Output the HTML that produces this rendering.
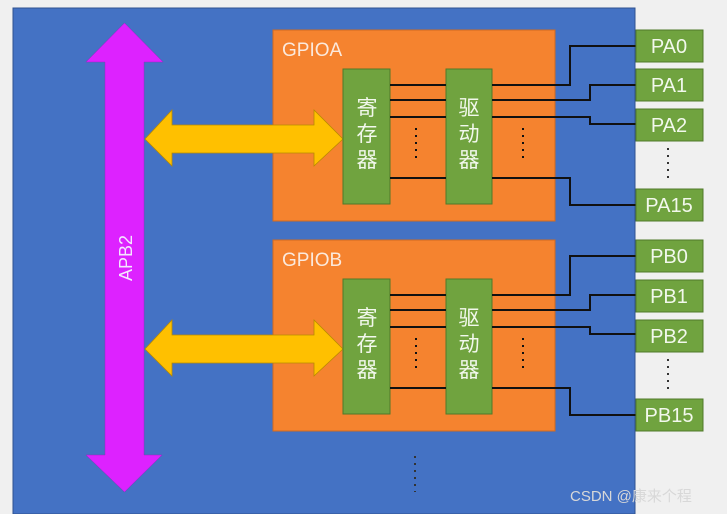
<!DOCTYPE html>
<html><head><meta charset="utf-8"><style>
html,body{margin:0;padding:0;background:#f0f0f0;}
svg{display:block;font-family:"Liberation Sans","Noto Sans CJK SC",sans-serif;}
</style></head><body>
<svg width="727" height="514" viewBox="0 0 727 514" xmlns="http://www.w3.org/2000/svg">
<rect x="0" y="0" width="727" height="514" fill="#f0f0f0"/>
<rect x="13" y="8" width="622" height="506" fill="#4472c4" stroke="#2f528f" stroke-width="1"/>
<polygon points="124.5,23 163,62 144,62 144,455 162,455 124.5,492 86,455 105,455 105,62 86,62" fill="#dd22ff" stroke="#a020c0" stroke-width="0.5"/>
<text x="0" y="0" transform="translate(132,258) rotate(-90)" text-anchor="middle" fill="#f4e6ff" font-size="18">APB2</text>

<g id="blk">
<rect x="273" y="30" width="282" height="191" fill="#f5832f" stroke="#d06a20" stroke-width="1"/>
<polygon points="145,139 172,110 172,125 314,125 314,110 343,139 314,166 314,153 172,153 172,166" fill="#ffc000" stroke="#b88a00" stroke-width="0.8"/>
<rect x="343" y="69" width="47" height="135" fill="#70a33f" stroke="#507a2a" stroke-width="1"/>
<rect x="446" y="69" width="46" height="135" fill="#70a33f" stroke="#507a2a" stroke-width="1"/>
<g fill="#f2f8ec" font-size="21" text-anchor="middle">
<text x="367" y="115">寄</text><text x="367" y="141">存</text><text x="367" y="167">器</text>
<text x="469" y="115">驱</text><text x="469" y="141">动</text><text x="469" y="167">器</text>
</g>
<g stroke="#111" stroke-width="2" fill="none">
<line x1="390" y1="85" x2="446" y2="85"/><line x1="390" y1="100" x2="446" y2="100"/>
<line x1="390" y1="117" x2="446" y2="117"/><line x1="390" y1="178" x2="446" y2="178"/>
<polyline points="492,85 570,85 570,46 636,46"/>
<polyline points="492,100 590,100 590,85 636,85"/>
<polyline points="492,117 590,117 590,124 636,124"/>
<polyline points="492,178 570,178 570,205 636,205"/>
</g>
<g stroke="#111" stroke-width="2" stroke-dasharray="2,5" fill="none">
<line x1="416" y1="128" x2="416" y2="162"/><line x1="523" y1="128" x2="523" y2="162"/>
</g>
</g>
<use href="#blk" transform="translate(0,210)"/>
<text x="282" y="56" fill="#fbe9dc" font-size="19">GPIOA</text>
<text x="282" y="266" fill="#fbe9dc" font-size="19">GPIOB</text>

<g fill="#70a33f" stroke="#507a2a" stroke-width="1">
<rect x="636" y="30" width="67" height="32"/><rect x="636" y="69" width="67" height="32"/>
<rect x="636" y="109" width="67" height="32"/><rect x="636" y="189" width="67" height="32"/>
<rect x="636" y="240" width="67" height="32"/><rect x="636" y="280" width="67" height="32"/>
<rect x="636" y="320" width="67" height="32"/><rect x="636" y="399" width="67" height="32"/>
</g>
<g fill="#f2f8ec" font-size="20" text-anchor="middle">
<text x="669" y="53">PA0</text><text x="669" y="92">PA1</text><text x="669" y="132">PA2</text><text x="669" y="212">PA15</text>
<text x="669" y="263">PB0</text><text x="669" y="303">PB1</text><text x="669" y="343">PB2</text><text x="669" y="422">PB15</text>
</g>
<g stroke="#333" stroke-width="2" stroke-dasharray="2,5" fill="none">
<line x1="668" y1="148" x2="668" y2="182"/><line x1="668" y1="359" x2="668" y2="393"/>
<line x1="415" y1="456" x2="415" y2="492"/>
</g>
<text x="570" y="501" fill="#d8d8d8" font-size="15">CSDN @康来个程</text>
</svg>
</body></html>
